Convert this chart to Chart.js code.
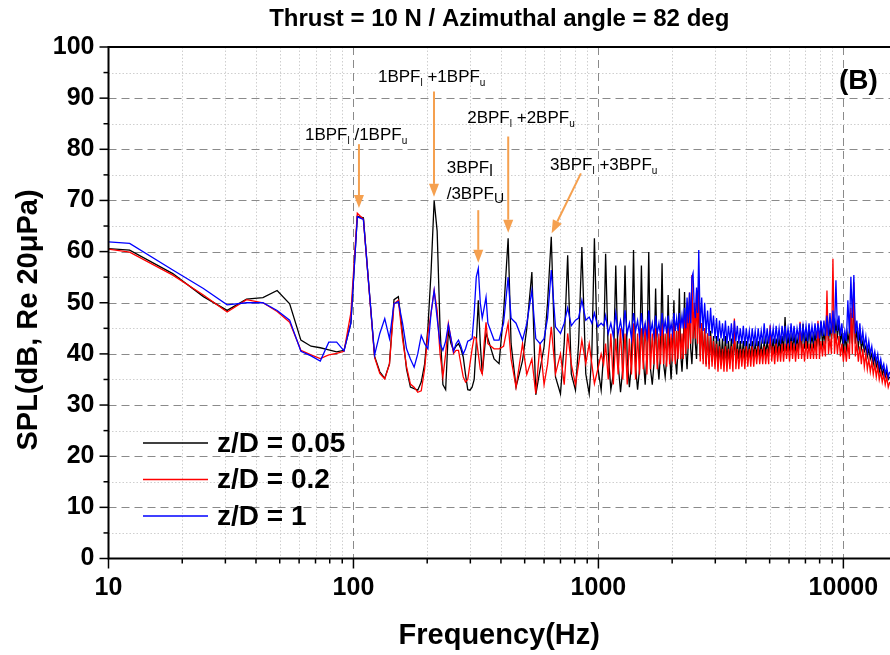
<!DOCTYPE html>
<html>
<head>
<meta charset="utf-8">
<title>SPL spectrum</title>
<script src="https://cdn.jsdelivr.net/npm/chart.js@4.4.1/dist/chart.umd.min.js"></script>
<style>
  html, body { margin: 0; padding: 0; background: #fff; }
</style>
</head>
<body>
<canvas id="chart-spl" width="890" height="655"></canvas>
<script>
// frequency bins (Hz), shared by the three microphones
const freqHz = [
  // narrowband part, 10 - 354 Hz
  10, 12.2, 18.3, 24.4, 30.5, 36.6, 42.7, 48.8, 54.9, 61.0,
  67.1, 73.2, 79.3, 85.4, 91.5, 97.6, 103.7, 109.8, 115.9, 122.0,
  128.1, 134.2, 140.3, 146.4, 152.5, 158.6, 164.7, 170.8, 176.9, 183.0,
  189.1, 195.2, 201.3, 207.4, 213.5, 219.6, 225.7, 231.8, 237.9, 244.0,
  250.1, 256.2, 262.3, 268.4, 274.5, 280.6, 286.7, 292.8, 298.9, 305.0,
  311.1, 317.2, 323.3, 329.4, 335.5, 341.6, 347.7, 353.8,
  // 375 - 1050 Hz
  375, 393, 410, 428, 440, 461, 490, 510, 535, 555,
  578, 600, 620, 642, 668, 700, 725, 749, 775, 806,
  830, 856, 888, 917, 940, 963, 994, 1026, 1050,
  // 1070 - 2541 Hz (harmonics region)
  1070, 1097, 1124, 1150, 1177, 1204, 1231, 1257, 1284, 1311,
  1338, 1364, 1391, 1418, 1445, 1471, 1498, 1525, 1552, 1578,
  1605, 1632, 1659, 1685, 1712, 1739, 1766, 1792, 1819, 1846,
  1873, 1899, 1926, 1953, 1980, 2006, 2033, 2060, 2087, 2113,
  2140, 2167, 2194, 2220, 2247, 2274, 2301, 2327, 2354, 2381,
  2408, 2434, 2461, 2488, 2515, 2541,
  // broadband part, 2568 - 15460 Hz
  2568, 2604, 2640, 2677, 2715, 2752, 2790, 2830, 2870, 2910,
  2950, 2992, 3035, 3077, 3120, 3165, 3210, 3255, 3300, 3347,
  3395, 3442, 3490, 3540, 3590, 3640, 3690, 3742, 3795, 3850,
  3905, 3960, 4015, 4072, 4130, 4187, 4245, 4305, 4365, 4427,
  4490, 4555, 4620, 4685, 4750, 4817, 4885, 4955, 5025, 5097,
  5170, 5242, 5315, 5390, 5465, 5542, 5620, 5700, 5780, 5862,
  5945, 6030, 6115, 6202, 6290, 6380, 6470, 6562, 6655, 6750,
  6845, 6942, 7040, 7140, 7240, 7342, 7445, 7552, 7660, 7767,
  7875, 7987, 8100, 8215, 8330, 8450, 8570, 8692, 8815, 8940,
  9065, 9195, 9325, 9457, 9590, 9725, 9860, 10000, 10140, 10285,
  10430, 10580, 10730, 10880, 11035, 11190, 11350, 11512, 11675, 11840,
  12005, 12175, 12350, 12525, 12700, 12880, 13060, 13245, 13435, 13625,
  13815, 14010, 14210, 14410, 14615, 14820, 15030, 15245, 15460
];

// z/D = 0.05
const splNear = [
  60.6, 60.3, 55.7, 51.2, 48.5, 50.7, 51.0, 52.4, 49.8, 42.7,
  41.5, 41.2, 40.8, 40.4, 40.7, 46.0, 66.9, 66.6, 52.6, 39.5,
  36.5, 35.2, 38.1, 50.6, 51.2, 44.0, 37.0, 33.5, 33.2, 32.9,
  34.5, 38.0, 45.0, 56.0, 70.0, 64.0, 45.0, 34.0, 33.0, 44.6,
  42.0, 40.7, 41.5, 42.0, 41.0, 39.4, 36.0, 33.0, 32.9, 33.5,
  35.0, 42.0, 50.5, 42.0, 36.1, 40.0, 44.0, 43.0,
  39.0, 38.1, 48.0, 62.6, 42.0, 33.5, 38.7, 45.0, 56.0, 32.0,
  37.0, 41.4, 50.0, 62.9, 35.5, 32.2, 42.0, 59.3, 36.1, 32.9,
  42.0, 60.9, 36.1, 32.2, 40.0, 62.6, 37.4, 32.9, 40.0,
  59.6, 40.0, 33.0, 36.0, 57.3, 38.0, 32.5, 37.0, 57.3, 39.0,
  33.5, 38.0, 60.3, 37.5, 33.0, 37.0, 57.3, 39.0, 34.0, 40.0,
  59.9, 37.0, 34.0, 38.0, 52.8, 39.0, 35.0, 40.0, 57.7, 38.0,
  35.5, 39.0, 51.5, 40.0, 35.0, 40.5, 50.5, 39.0, 36.0, 41.0,
  52.8, 40.0, 36.5, 41.0, 52.1, 40.5, 37.0, 42.0, 50.2, 41.0,
  38.0, 43.0, 48.0, 42.0, 39.0, 45.0,
  50.0, 39.5, 46.0, 39.0, 45.0, 38.0, 44.0, 38.0, 44.5, 38.5,
  43.5, 38.0, 43.5, 38.0, 43.0, 38.5, 43.0, 38.0, 43.5, 38.5,
  42.5, 38.5, 43.0, 38.5, 43.0, 38.5, 42.5, 39.0, 42.5, 39.0,
  42.5, 39.0, 42.5, 39.0, 42.0, 39.0, 42.5, 39.5, 42.0, 39.5,
  42.5, 39.5, 42.0, 39.5, 42.5, 40.0, 42.5, 40.0, 43.0, 40.0,
  43.0, 40.0, 43.0, 40.0, 43.0, 40.5, 43.5, 40.5, 47.2, 40.5,
  43.5, 41.0, 43.5, 41.0, 43.5, 41.0, 43.0, 41.0, 43.5, 41.0,
  45.9, 41.0, 43.5, 41.0, 45.6, 41.5, 43.5, 41.5, 44.0, 41.5,
  44.0, 42.0, 46.3, 42.0, 44.0, 42.0, 49.2, 42.5, 45.0, 43.0,
  47.0, 43.0, 46.0, 43.5, 46.0, 42.5, 44.0, 40.1, 43.5, 41.0,
  44.0, 42.0, 48.0, 42.0, 50.0, 42.0, 44.5, 41.5, 44.0, 41.0,
  42.5, 40.5, 41.5, 39.5, 41.0, 39.0, 40.0, 38.0, 39.5, 37.5,
  38.5, 36.5, 38.0, 36.0, 37.0, 35.5, 36.5, 35.0, 35.5
];

// z/D = 0.2
const splMid = [
  60.5, 59.9, 55.4, 51.5, 48.2, 50.6, 50.0, 48.3, 46.2, 40.7,
  39.8, 39.1, 39.8, 40.1, 40.5, 48.0, 67.5, 66.3, 52.4, 39.3,
  36.2, 35.1, 38.0, 49.8, 50.5, 43.0, 37.5, 34.1, 33.5, 32.5,
  32.8, 37.0, 44.0, 48.0, 52.4, 48.5, 40.0, 35.5, 40.0, 45.9,
  43.0, 40.1, 40.7, 40.7, 38.0, 35.5, 34.5, 35.0, 38.0, 41.0,
  43.3, 43.0, 40.0, 37.0, 36.1, 42.0, 46.2, 42.0,
  41.0, 41.0, 41.5, 46.0, 39.0, 33.5, 42.0, 36.0, 39.0, 32.2,
  42.0, 34.0, 38.0, 45.3, 36.1, 40.0, 34.0, 44.0, 38.0, 34.0,
  38.0, 42.7, 38.1, 42.0, 38.0, 34.2, 37.0, 40.0, 38.0,
  42.0, 35.0, 44.0, 34.0, 43.0, 36.0, 45.0, 35.0, 44.0, 34.0,
  43.0, 36.0, 46.0, 35.0, 44.0, 36.0, 45.0, 37.0, 46.0, 36.0,
  47.0, 37.0, 44.0, 38.0, 45.0, 37.0, 44.0, 38.0, 46.0, 38.0,
  44.0, 37.5, 45.0, 38.0, 44.0, 38.5, 46.0, 38.0, 44.5, 39.0,
  46.0, 39.0, 44.0, 39.0, 47.0, 40.0, 50.0, 41.0, 52.0, 42.0,
  55.4, 43.0, 50.0, 43.0, 52.0, 42.0,
  55.1, 38.5, 46.0, 38.0, 45.0, 37.5, 44.0, 37.0, 43.5, 37.5,
  42.5, 37.0, 42.0, 36.5, 41.5, 37.0, 41.0, 36.5, 41.5, 36.5,
  41.0, 37.0, 41.5, 36.5, 46.9, 37.0, 41.0, 37.0, 41.0, 37.5,
  41.0, 37.0, 41.5, 37.5, 41.0, 37.5, 41.5, 37.5, 41.0, 38.0,
  41.5, 38.0, 41.0, 38.0, 41.5, 38.0, 41.0, 38.0, 45.6, 38.5,
  41.5, 38.0, 42.0, 38.5, 41.5, 38.5, 42.0, 38.5, 42.0, 39.0,
  42.0, 38.5, 42.5, 39.0, 42.0, 38.5, 42.0, 39.0, 46.3, 39.0,
  42.0, 38.5, 42.5, 39.0, 42.0, 39.0, 42.0, 39.0, 42.5, 39.0,
  46.5, 39.0, 42.5, 39.5, 42.5, 39.5, 52.4, 40.0, 43.0, 40.0,
  58.6, 40.0, 44.0, 40.0, 43.5, 39.5, 42.0, 38.5, 41.5, 38.5,
  42.0, 39.0, 49.0, 40.0, 54.0, 39.5, 42.0, 38.5, 41.5, 38.0,
  41.0, 37.5, 40.0, 37.0, 39.0, 36.5, 38.5, 36.0, 38.0, 35.5,
  37.5, 35.0, 36.5, 34.5, 36.0, 34.0, 35.5, 33.5, 34.5
];

// z/D = 1
const splFar = [
  61.9, 61.6, 56.4, 52.8, 49.6, 50.0, 50.0, 48.5, 46.6, 40.5,
  39.6, 38.6, 42.3, 42.3, 40.6, 46.0, 66.8, 66.3, 52.6, 39.8,
  44.0, 46.9, 43.0, 49.8, 50.2, 46.0, 41.0, 39.0, 37.4, 40.0,
  43.6, 42.0, 41.0, 48.0, 52.4, 47.0, 42.0, 40.7, 42.5, 45.7,
  43.0, 40.5, 42.0, 42.7, 41.5, 40.0, 41.0, 42.5, 42.7, 43.0,
  48.0, 55.0, 56.7, 50.0, 47.0, 49.0, 51.1, 46.0,
  42.7, 42.7, 46.0, 55.0, 47.0, 46.0, 42.7, 45.9, 52.4, 43.0,
  42.0, 43.0, 47.0, 56.4, 45.3, 44.0, 46.0, 49.0, 45.5, 46.6,
  47.0, 50.5, 46.6, 47.2, 46.0, 48.0, 45.3, 46.0, 45.5,
  47.5, 44.0, 46.0, 43.5, 48.0, 44.0, 46.5, 43.5, 48.5, 44.0,
  46.0, 43.0, 48.0, 44.5, 46.5, 43.5, 48.0, 44.0, 46.0, 43.5,
  48.5, 44.0, 46.0, 43.5, 47.5, 44.0, 46.0, 43.5, 48.0, 44.5,
  46.5, 44.0, 47.5, 44.0, 46.0, 44.0, 48.0, 44.5, 47.0, 44.5,
  48.0, 45.0, 47.5, 45.0, 49.0, 45.0, 51.0, 46.0, 52.0, 46.0,
  55.0, 55.8, 49.0, 47.0, 53.0, 48.0,
  60.3, 45.0, 51.0, 44.5, 50.0, 44.0, 48.5, 43.5, 49.0, 44.0,
  47.5, 43.0, 47.0, 42.5, 46.5, 43.0, 46.0, 42.5, 46.5, 42.0,
  45.5, 42.5, 46.0, 42.0, 46.5, 42.5, 45.5, 42.0, 45.0, 42.0,
  45.5, 41.5, 45.0, 42.0, 44.5, 41.5, 45.0, 42.0, 44.5, 41.5,
  45.0, 42.0, 44.5, 42.0, 46.0, 42.0, 45.0, 42.0, 45.0, 42.5,
  45.0, 42.0, 45.5, 42.5, 45.0, 42.0, 45.5, 42.5, 45.5, 42.5,
  45.0, 42.5, 46.0, 42.5, 45.5, 42.5, 45.0, 43.0, 46.0, 42.5,
  45.5, 43.0, 45.5, 42.5, 46.0, 43.0, 45.5, 43.0, 46.0, 43.0,
  46.0, 43.0, 46.5, 43.5, 46.5, 43.5, 47.5, 43.5, 48.0, 44.0,
  48.5, 44.0, 54.4, 44.5, 47.5, 43.5, 46.0, 42.0, 44.5, 42.5,
  50.5, 44.0, 55.1, 47.0, 55.4, 44.0, 46.5, 42.5, 46.0, 42.0,
  44.5, 41.5, 43.5, 40.5, 42.5, 40.0, 41.5, 39.0, 40.5, 38.5,
  40.0, 37.5, 39.0, 37.0, 38.0, 36.0, 37.5, 35.5, 36.5
];

const seriesLabels = ['z/D = 0.05', 'z/D = 0.2', 'z/D = 1'];
const seriesColors = ['#000000', '#ff0000', '#0000ff'];

// axis ticks
const xDecades = [10, 100, 1000, 10000];
const xMinor = [20, 30, 40, 50, 60, 70, 80, 90, 200, 300, 400, 500, 600, 700, 800, 900,
  2000, 3000, 4000, 5000, 6000, 7000, 8000, 9000];
const yMajor = [0, 10, 20, 30, 40, 50, 60, 70, 80, 90, 100];
const yMinor = [5, 15, 25, 35, 45, 55, 65, 75, 85, 95];

// callouts: text position and arrow (Hz, dB)
const callouts = [
  {parts: [['1BPF', 17, 0], ['l', 10, 4], [' /1BPF', 17, 0], ['u', 10, 4]], at: [63.4, 81.8], arrow: [[105.3, 81.0], [105.3, 68.5]]},
  {parts: [['1BPF', 17, 0], ['l', 10, 4], [' +1BPF', 17, 0], ['u', 10, 4]], at: [125.9, 93.2], arrow: [[213.2, 91.3], [213.2, 70.7]]},
  {parts: [['2BPF', 17, 0], ['l', 10, 4], [' +2BPF', 17, 0], ['u', 10, 4]], at: [291.4, 85.1], arrow: [[428.3, 82.5], [428.3, 63.7]]},
  {parts: [['3BPF', 17, 0], ['l', 16, 3]], at: [240.2, 75.3], arrow: [[323.2, 68.1], [323.2, 57.8]]},
  {parts: [['/3BPF', 17, 0], ['U', 14, 4]], at: [240.2, 70.2]},
  {parts: [['3BPF', 17, 0], ['l', 10, 4], [' +3BPF', 17, 0], ['u', 10, 4]], at: [634, 76.0], arrow: [[848.2, 75.3], [644.2, 63.6]]}
];

const FONT = '"Liberation Sans", Arial, sans-serif';
Chart.defaults.font.family = FONT;
Chart.defaults.color = '#000';

function hLine(ctx, a, py) {
  ctx.beginPath(); ctx.moveTo(a.left, py); ctx.lineTo(a.right, py); ctx.stroke();
}
function vLine(ctx, a, px) {
  ctx.beginPath(); ctx.moveTo(px, a.top); ctx.lineTo(px, a.bottom); ctx.stroke();
}

const decorations = {
  id: 'decorations',
  beforeDatasetsDraw(chart) {
    const {ctx, chartArea: a, scales: {x, y}} = chart;
    ctx.save();
    ctx.lineWidth = 1;
    // minor grid, dotted
    ctx.strokeStyle = '#cfcfcf';
    ctx.setLineDash([1.5, 2]);
    yMinor.forEach(v => hLine(ctx, a, Math.round(y.getPixelForValue(v)) + 0.5));
    xMinor.forEach(v => vLine(ctx, a, Math.round(x.getPixelForValue(v)) + 0.5));
    // major grid, dashed
    ctx.strokeStyle = '#8a8a8a';
    ctx.setLineDash([8, 5]);
    yMajor.slice(1, -1).forEach(v => hLine(ctx, a, Math.round(y.getPixelForValue(v)) + 0.5));
    xDecades.slice(1).forEach(v => vLine(ctx, a, Math.round(x.getPixelForValue(v)) + 0.5));
    ctx.restore();
  },
  afterDatasetsDraw(chart) {
    const {ctx, chartArea: a, scales: {x, y}} = chart;
    ctx.save();

    // axes + frame top
    ctx.strokeStyle = '#000';
    ctx.lineWidth = 2;
    ctx.beginPath();
    ctx.moveTo(a.right, a.top); ctx.lineTo(a.left, a.top);
    ctx.lineTo(a.left, a.bottom); ctx.lineTo(a.right, a.bottom);
    ctx.stroke();

    // tick marks (outward)
    ctx.lineWidth = 1.5;
    yMajor.forEach(v => {
      const py = y.getPixelForValue(v);
      ctx.beginPath(); ctx.moveTo(a.left - 9, py); ctx.lineTo(a.left, py); ctx.stroke();
    });
    yMinor.forEach(v => {
      const py = y.getPixelForValue(v);
      ctx.beginPath(); ctx.moveTo(a.left - 5, py); ctx.lineTo(a.left, py); ctx.stroke();
    });
    xDecades.forEach(v => {
      const px = x.getPixelForValue(v);
      ctx.beginPath(); ctx.moveTo(px, a.bottom); ctx.lineTo(px, a.bottom + 10); ctx.stroke();
    });
    xMinor.forEach(v => {
      const px = x.getPixelForValue(v);
      ctx.beginPath(); ctx.moveTo(px, a.bottom); ctx.lineTo(px, a.bottom + 5); ctx.stroke();
    });

    // callouts
    ctx.fillStyle = '#000';
    ctx.textBaseline = 'alphabetic';
    ctx.textAlign = 'left';
    callouts.forEach(c => {
      let tx = x.getPixelForValue(c.at[0]);
      const ty = y.getPixelForValue(c.at[1]);
      c.parts.forEach(([t, size, dy]) => {
        ctx.font = size + 'px ' + FONT;
        ctx.fillText(t, tx, ty + dy);
        tx += ctx.measureText(t).width;
      });
      if (!c.arrow) return;
      const x1 = x.getPixelForValue(c.arrow[0][0]), y1 = y.getPixelForValue(c.arrow[0][1]);
      const x2 = x.getPixelForValue(c.arrow[1][0]), y2 = y.getPixelForValue(c.arrow[1][1]);
      const ang = Math.atan2(y2 - y1, x2 - x1);
      const hl = 13, hw = 5;
      const bx = x2 - hl * Math.cos(ang), by = y2 - hl * Math.sin(ang);
      ctx.strokeStyle = '#f5a04f';
      ctx.fillStyle = '#f5a04f';
      ctx.lineWidth = 2;
      ctx.beginPath(); ctx.moveTo(x1, y1); ctx.lineTo(bx, by); ctx.stroke();
      ctx.beginPath();
      ctx.moveTo(x2, y2);
      ctx.lineTo(bx + hw * Math.sin(ang), by - hw * Math.cos(ang));
      ctx.lineTo(bx - hw * Math.sin(ang), by + hw * Math.cos(ang));
      ctx.closePath(); ctx.fill();
      ctx.fillStyle = '#000';
    });

    // legend
    ctx.font = 'bold 28px ' + FONT;
    ctx.textBaseline = 'middle';
    seriesLabels.forEach((lab, i) => {
      const ly = 443 + i * 36.5;
      ctx.strokeStyle = seriesColors[i];
      ctx.lineWidth = 1.5;
      ctx.beginPath(); ctx.moveTo(143, ly); ctx.lineTo(208, ly); ctx.stroke();
      ctx.fillStyle = '#000';
      ctx.fillText(lab, 217, ly + 1);
    });

    // panel tag
    ctx.font = 'bold 28px ' + FONT;
    ctx.fillText('(B)', 839, 81);

    // title
    ctx.textAlign = 'center';
    ctx.font = 'bold 24px ' + FONT;
    ctx.fillText('Thrust = 10 N / Azimuthal angle = 82 deg', (a.left + a.right) / 2, 19);

    // y axis title
    ctx.translate(29, 320);
    ctx.rotate(-Math.PI / 2);
    ctx.font = 'bold 29px ' + FONT;
    ctx.fillText('SPL(dB, Re 20\u03bcPa)', 0, 0);
    ctx.restore();
  }
};

function toPoints(values) {
  return freqHz.map((f, i) => ({x: f, y: values[i]}));
}

const chartSpl = document.getElementById('chart-spl');

new Chart(chartSpl, {
  type: 'line',
  data: {
    datasets: [
      {label: seriesLabels[0], data: toPoints(splNear), borderColor: seriesColors[0], borderWidth: 1.3, order: 3},
      {label: seriesLabels[1], data: toPoints(splMid), borderColor: seriesColors[1], borderWidth: 1.3, order: 2},
      {label: seriesLabels[2], data: toPoints(splFar), borderColor: seriesColors[2], borderWidth: 1.3, order: 1}
    ]
  },
  options: {
    responsive: false,
    animation: false,
    events: [],
    elements: {point: {radius: 0, hoverRadius: 0}, line: {tension: 0}},
    layout: {autoPadding: false, padding: {top: 47, left: 0, right: 0, bottom: 0}},
    plugins: {legend: {display: false}, tooltip: {enabled: false}, title: {display: false}},
    scales: {
      x: {
        type: 'logarithmic',
        min: 10,
        max: 15500,
        afterFit: s => { s.height = 96.5; s.paddingLeft = 0; s.paddingRight = 0; },
        afterBuildTicks: s => { s.ticks = xDecades.concat(xMinor).sort((p, q) => p - q).map(v => ({value: v})); },
        grid: {display: false, drawTicks: false},
        border: {display: false},
        ticks: {
          autoSkip: false,
          maxRotation: 0,
          padding: 15,
          color: '#000',
          font: {size: 25, weight: 'bold'},
          callback: v => xDecades.includes(v) ? String(v) : ''
        },
        title: {display: true, text: 'Frequency(Hz)', color: '#000', font: {size: 29, weight: 'bold'}, padding: {top: 0, bottom: 2}}
      },
      y: {
        min: 0,
        max: 100,
        afterFit: s => { s.width = 108.5; },
        grid: {display: false, drawTicks: false},
        border: {display: false},
        ticks: {stepSize: 10, padding: 14, color: '#000', font: {size: 25, weight: 'bold'}}
      }
    }
  },
  plugins: [decorations]
});
</script>
</body>
</html>
